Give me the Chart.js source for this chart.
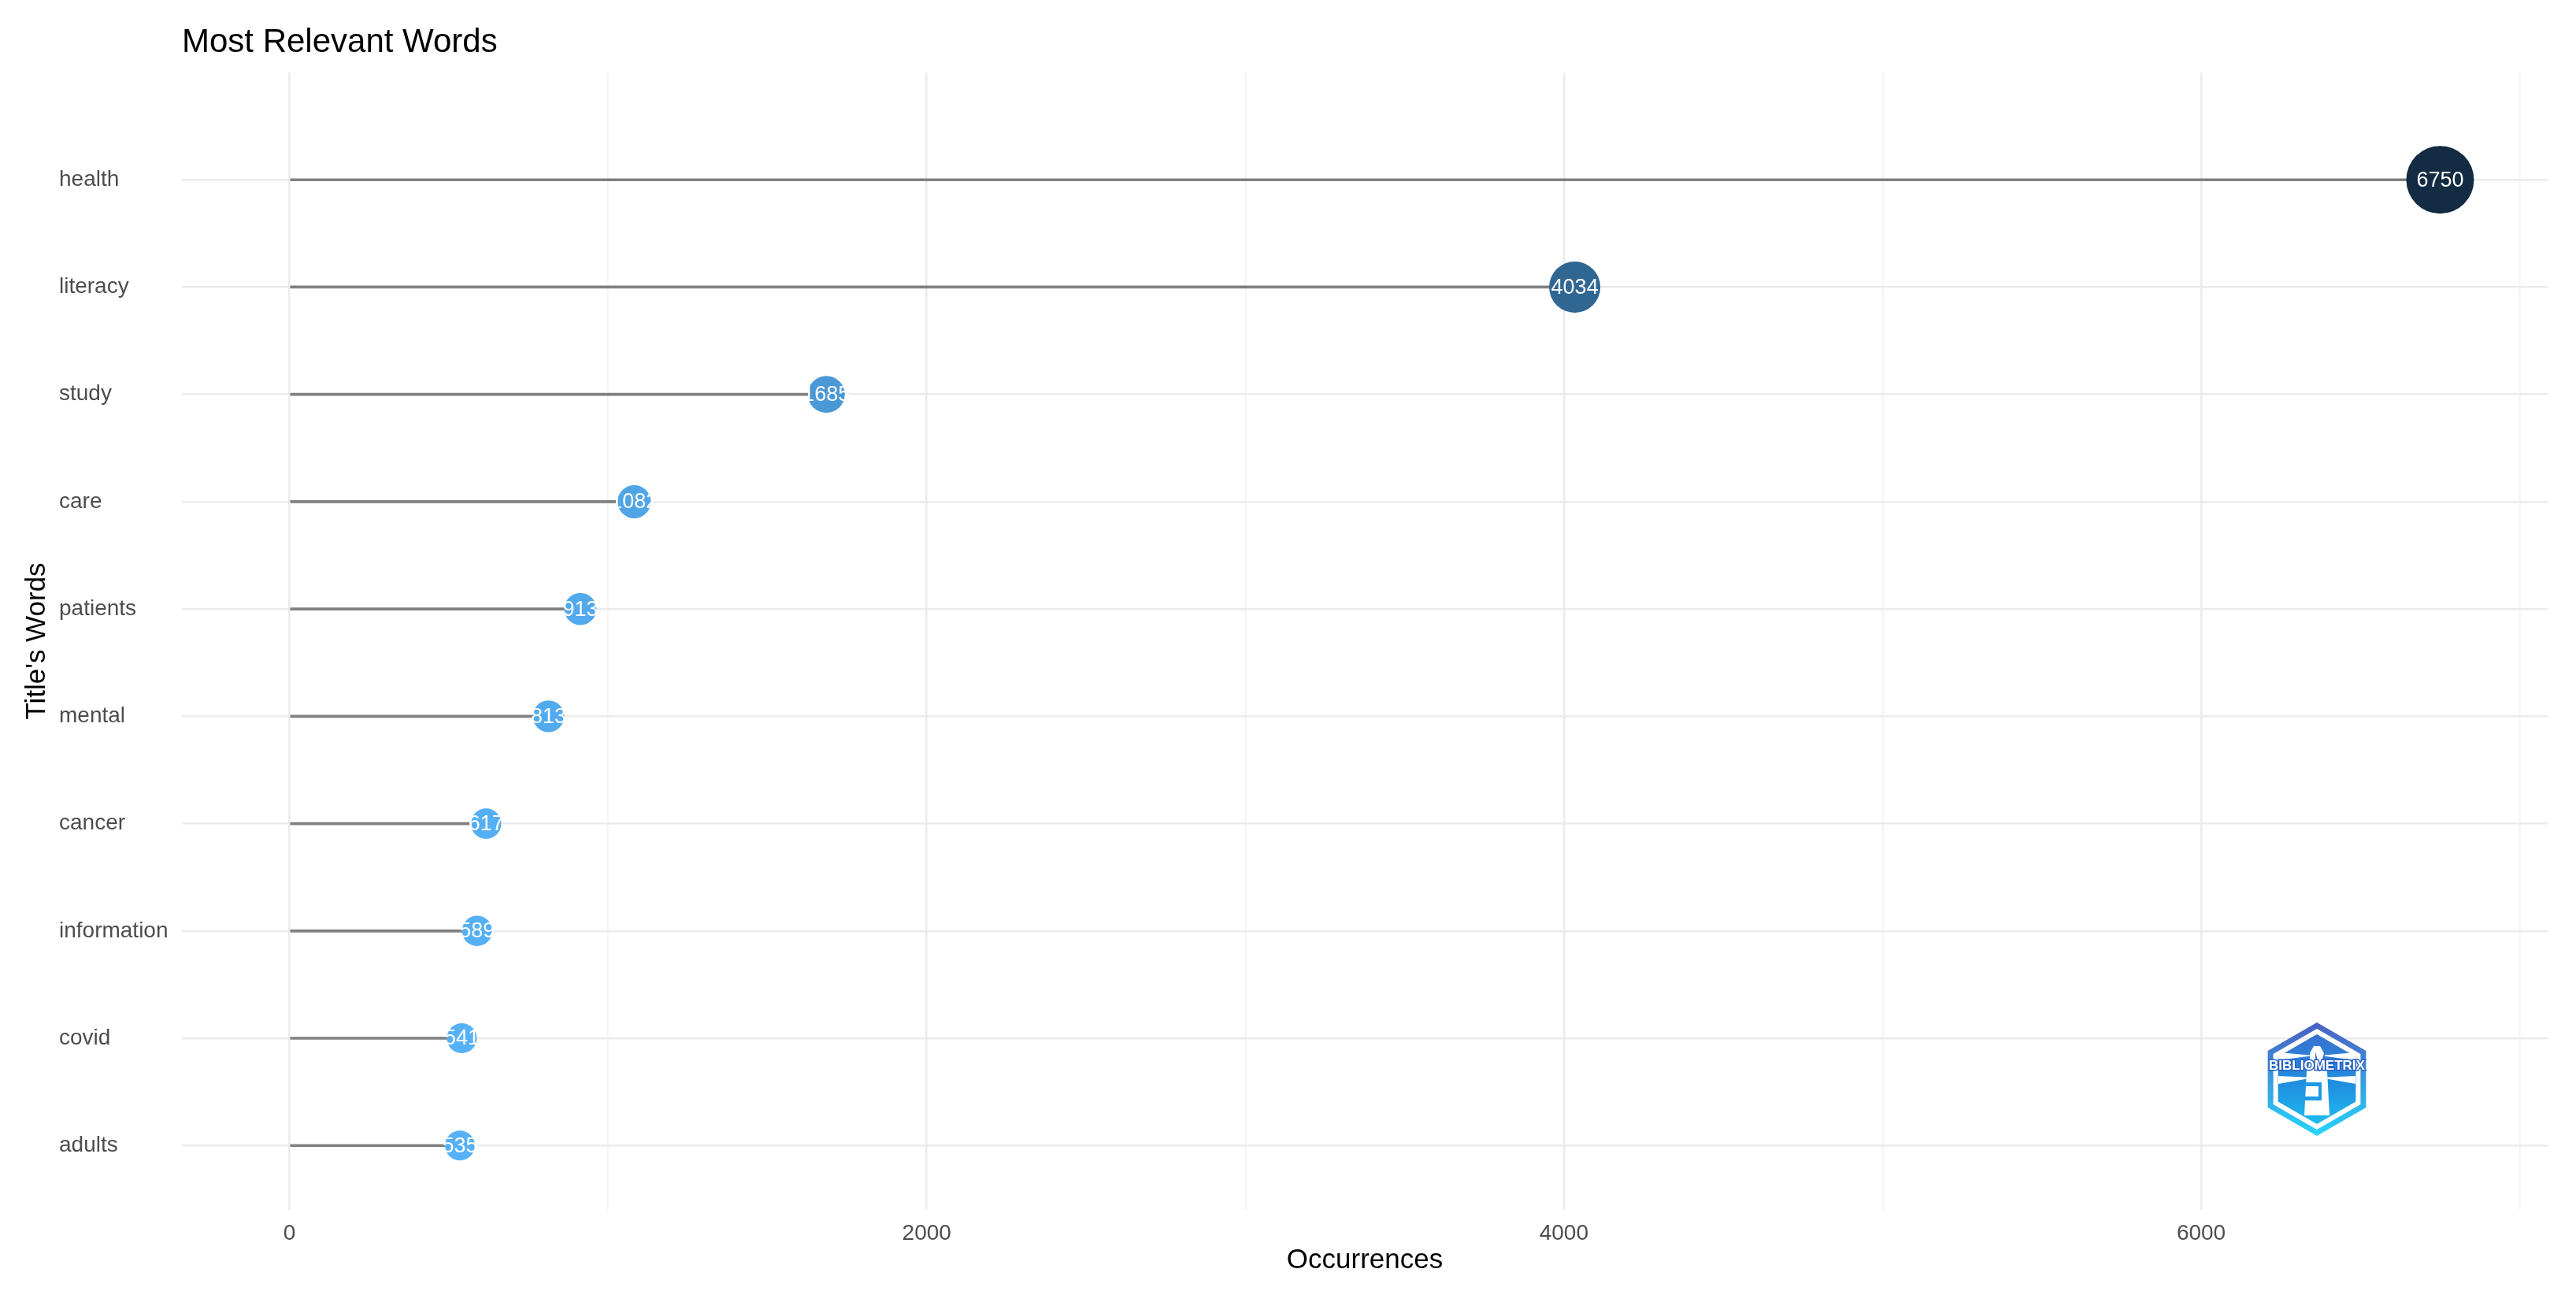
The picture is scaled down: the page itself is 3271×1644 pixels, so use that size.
<!DOCTYPE html>
<html>
<head>
<meta charset="utf-8">
<script src="https://cdn.jsdelivr.net/npm/chart.js@4.4.0/dist/chart.umd.min.js"></script>
<style>
    html, body { margin: 0; padding: 0; background: #ffffff; overflow: hidden; }
    #wrap { width: 3271px; height: 1644px; }
    #LollipopChart { display: block; }
</style>
</head>
<body>
<div id="wrap"><canvas id="LollipopChart" width="3271" height="1644"></canvas></div>
<script>
// chart data
var words = ['health', 'literacy', 'study', 'care', 'patients', 'mental', 'cancer', 'information', 'covid', 'adults'];
var occurrences = [6750, 4034, 1685, 1082, 913, 813, 617, 589, 541, 535];
var xTickValues = [0, 1000, 2000, 3000, 4000, 5000, 6000, 7000];
var xTickLabels = ['0', '', '2000', '', '4000', '', '6000', ''];

var chartTitle = 'Most Relevant Words';
var xTitle = 'Occurrences';
var yTitle = "Title's Words";

var fontFamily = '"Liberation Sans", Arial, Helvetica, sans-serif';

// words go top to bottom, so first word gets highest position
function rowOf(i) { return words.length - i; }

var vMin = Math.min.apply(null, occurrences);
var vMax = Math.max.apply(null, occurrences);

function shade(v) {
    var t = (v - vMin) / (vMax - vMin);
    var lo = [86, 177, 247], hi = [19, 43, 67];
    var c = lo.map(function (a, k) { return Math.round(a + (hi[k] - a) * t); });
    return 'rgb(' + c.join(',') + ')';
}

function radiusOf(v) {
    var t = (v - vMin) / (vMax - vMin);
    return 19 + 24 * t;
}

var stems = words.map(function (w, i) { return { x: [0, occurrences[i]], y: rowOf(i) }; });
var points = words.map(function (w, i) { return { x: occurrences[i], y: rowOf(i) }; });

var extras = {
    id: 'extras',
    afterDatasetsDraw: function (chart) {
        var ctx = chart.ctx;
        var meta = chart.getDatasetMeta(1);
        ctx.save();
        ctx.fillStyle = '#ffffff';
        ctx.font = '27px ' + fontFamily;
        ctx.textAlign = 'center';
        ctx.textBaseline = 'middle';
        meta.data.forEach(function (el, i) {
            ctx.fillText(String(occurrences[i]), el.x, el.y + 1);
        });
        ctx.restore();
        drawLogo(ctx, 2942, 1370, 72);
    },
    afterDraw: function (chart) {
        var ctx = chart.ctx;
        var area = chart.chartArea;
        ctx.save();
        ctx.fillStyle = '#000000';
        ctx.font = '42px ' + fontFamily;
        ctx.textAlign = 'left';
        ctx.textBaseline = 'alphabetic';
        ctx.fillText(chartTitle, area.left, 66);

        ctx.font = '35px ' + fontFamily;
        ctx.translate(47, (area.top + area.bottom) / 2);
        ctx.rotate(-Math.PI / 2);
        ctx.textAlign = 'center';
        ctx.textBaseline = 'middle';
        ctx.fillText(yTitle, 0, 0);
        ctx.restore();
    }
};

function hexPath(ctx, cx, cy, r) {
    ctx.beginPath();
    for (var k = 0; k < 6; k++) {
        var a = (-90 + 60 * k) * Math.PI / 180;
        ctx.lineTo(cx + r * Math.cos(a), cy + r * Math.sin(a));
    }
    ctx.closePath();
}

function drawLogo(ctx, cx, cy, r) {
    ctx.save();
    var g1 = ctx.createLinearGradient(0, cy - r, 0, cy + r);
    g1.addColorStop(0, '#4a5fc3');
    g1.addColorStop(1, '#27d6fb');
    hexPath(ctx, cx, cy, r - 4);
    ctx.lineWidth = 7;
    ctx.strokeStyle = g1;
    ctx.stroke();

    var g2 = ctx.createLinearGradient(0, cy - r, 0, cy + r);
    g2.addColorStop(0, '#3f6ccc');
    g2.addColorStop(0.55, '#1f8fe0');
    g2.addColorStop(1, '#1fcaf6');
    hexPath(ctx, cx, cy, r - 15);
    ctx.fillStyle = g2;
    ctx.fill();

    // light beams
    ctx.fillStyle = '#ffffff';
    ctx.beginPath();
    ctx.moveTo(cx - 49, cy - 34); ctx.lineTo(cx - 49, cy - 24); ctx.lineTo(cx - 4, cy - 30); ctx.closePath();
    ctx.moveTo(cx + 49, cy - 34); ctx.lineTo(cx + 49, cy - 24); ctx.lineTo(cx + 4, cy - 30); ctx.closePath();
    ctx.moveTo(cx - 49, cy - 4); ctx.lineTo(cx - 49, cy + 6); ctx.lineTo(cx - 4, cy - 2); ctx.closePath();
    ctx.moveTo(cx + 49, cy - 4); ctx.lineTo(cx + 49, cy + 6); ctx.lineTo(cx + 4, cy - 2); ctx.closePath();
    ctx.fill();

    // tower
    ctx.beginPath();
    ctx.moveTo(cx - 4, cy - 42); ctx.lineTo(cx + 4, cy - 42);
    ctx.lineTo(cx + 9, cy - 33); ctx.lineTo(cx + 9, cy - 22);
    ctx.lineTo(cx + 13, cy - 10); ctx.lineTo(cx + 16, cy + 46);
    ctx.lineTo(cx - 16, cy + 46); ctx.lineTo(cx - 13, cy - 10);
    ctx.lineTo(cx - 9, cy - 22); ctx.lineTo(cx - 9, cy - 33);
    ctx.closePath();
    ctx.fill();
    ctx.fillStyle = '#1f9be4';
    ctx.fillRect(cx - 16, cy + 4, 22, 5);
    ctx.fillRect(cx - 16, cy + 22, 22, 5);
    ctx.fillRect(cx + 2, cy + 4, 4, 23);

    ctx.font = 'bold 17px ' + fontFamily;
    ctx.textAlign = 'center';
    ctx.textBaseline = 'middle';
    ctx.lineWidth = 3;
    ctx.strokeStyle = '#2a63c4';
    ctx.strokeText('BIBLIOMETRIX', cx, cy - 17);
    ctx.fillStyle = '#ffffff';
    ctx.fillText('BIBLIOMETRIX', cx, cy - 17);
    ctx.restore();
}

var ctx = document.getElementById('LollipopChart');
new Chart(ctx, {
    type: 'bar',
    data: {
        datasets: [{
            type: 'bar',
            label: 'stem',
            data: stems,
            backgroundColor: '#808080',
            borderWidth: 0,
            barThickness: 3,
            order: 2
        }, {
            type: 'scatter',
            label: 'Occurrences',
            data: points,
            pointRadius: function (c) { return c.raw ? radiusOf(c.raw.x) : 0; },
            pointHoverRadius: function (c) { return c.raw ? radiusOf(c.raw.x) : 0; },
            pointBackgroundColor: function (c) { return c.raw ? shade(c.raw.x) : '#56B1F7'; },
            pointBorderWidth: 0,
            order: 1
        }]
    },
    options: {
        indexAxis: 'y',
        responsive: false,
        maintainAspectRatio: false,
        animation: false,
        devicePixelRatio: 1,
        events: [],
        layout: { autoPadding: false, padding: { left: 75, right: 36, top: 92, bottom: 0 } },
        plugins: {
            legend: { display: false },
            tooltip: { enabled: false },
            title: { display: false }
        },
        scales: {
            x: {
                type: 'linear',
                min: -337.5,
                max: 7087.5,
                offset: false,
                afterBuildTicks: function (scale) {
                    scale.ticks = xTickValues.map(function (v) { return { value: v }; });
                },
                afterFit: function (scale) {
                    scale.height = 108;
                    scale.paddingLeft = 0;
                    scale.paddingRight = 0;
                },
                border: { display: false },
                grid: {
                    offset: false,
                    drawTicks: false,
                    color: function (c) { return c.tick && c.tick.value % 2000 === 0 ? '#EBEBEB' : '#F2F2F2'; },
                    lineWidth: function (c) { return c.tick && c.tick.value % 2000 === 0 ? 2.5 : 1.5; }
                },
                ticks: {
                    autoSkip: false,
                    maxRotation: 0,
                    padding: 13,
                    color: '#4D4D4D',
                    font: { family: fontFamily, size: 28 },
                    callback: function (v) {
                        var k = xTickValues.indexOf(v);
                        return k >= 0 ? xTickLabels[k] : '';
                    }
                },
                title: {
                    display: true,
                    text: xTitle,
                    color: '#000000',
                    font: { family: fontFamily, size: 35 },
                    padding: { top: 0, bottom: 23 }
                }
            },
            y: {
                type: 'linear',
                min: 0.4,
                max: 11,
                offset: false,
                afterBuildTicks: function (scale) {
                    scale.ticks = words.map(function (w, i) { return { value: rowOf(i) }; });
                },
                afterFit: function (scale) {
                    scale.width = 156;
                    scale.paddingTop = 0;
                    scale.paddingBottom = 0;
                },
                border: { display: false },
                grid: { offset: false, drawTicks: false, color: '#EBEBEB', lineWidth: 2.5 },
                ticks: {
                    autoSkip: false,
                    crossAlign: 'far',
                    color: '#4D4D4D',
                    font: { family: fontFamily, size: 28 },
                    callback: function (v) { return words[words.length - v]; }
                }
            }
        }
    },
    plugins: [extras]
});
</script>
</body>
</html>
